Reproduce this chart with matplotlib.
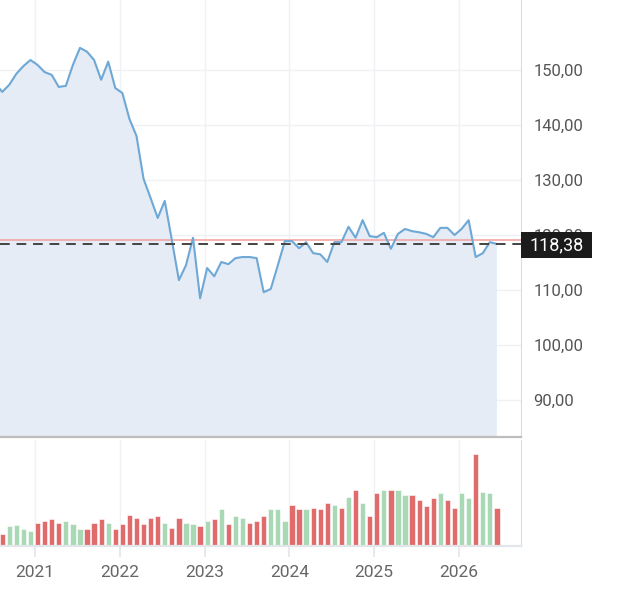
import numpy as np
import matplotlib.pyplot as plt
from matplotlib.patches import Rectangle

plt.rcParams['font.family'] = ['Roboto', 'DejaVu Sans']

# monthly closes, Jul 2020 .. Jun 2026 (first month lies just off the left edge)
price = [147.6, 146.0, 147.3, 149.3, 150.7, 151.8, 150.9, 149.6, 149.1, 146.9,
         147.1, 150.9, 154.0, 153.3, 151.8, 148.2, 151.5, 146.7, 145.8, 141.1,
         138.0, 130.2, 126.7, 123.1, 126.2, 119.1, 111.8, 114.5, 119.5, 108.5,
         114.0, 112.5, 115.1, 114.7, 115.8, 116.0, 116.0, 115.8, 109.6, 110.2,
         114.5, 118.9, 118.9, 117.6, 118.7, 116.7, 116.5, 115.1, 118.7, 118.7,
         121.5, 119.5, 122.7, 119.8, 119.6, 120.4, 117.5, 120.2, 121.1, 120.7,
         120.5, 120.2, 119.6, 121.3, 121.3, 120.0, 121.1, 122.7, 116.0, 116.7,
         118.7, 118.38]

volume = [14, 12, 20, 21, 17, 15, 23, 25, 27, 23, 25, 22, 17, 17, 23, 27, 23,
          17, 22, 31, 28, 22, 28, 30, 23, 18, 28, 23, 22, 20, 25, 27, 37, 22,
          30, 28, 23, 25, 30, 37, 37, 25, 41, 37, 37, 38, 37, 43, 41, 38, 49,
          56, 43, 30, 53, 56, 56, 56, 51, 51, 46, 40, 48, 53, 46, 38, 53, 48,
          92, 54, 53, 38]

direction = list("grggggrrrrgggrrrgrrrrrrrgrrggrgrgrggrr"
                 "rgggrrgrrrgrgrgrrgrggrrrrgrrggrggr")

last_price = 118.38
prev_close = 119.1
years = [2021, 2022, 2023, 2024, 2025, 2026]

t = 2020 + np.arange(6, 6 + len(price)) / 12 + 0.03
xlim = (2020.587, 2026.731)

line_c = '#6ea8d6'
fill_c = '#e5ecf5'
red = '#e06b6b'
green = '#a8d8b4'
grid_c = '#f0f1f4'

fig = plt.figure(figsize=(6.34, 6.0), dpi=100)
W = 521 / 634
ax = fig.add_axes([0, 1 - 437 / 600, W, 437 / 600])
axv = fig.add_axes([0, 1 - 546 / 600, W, 106 / 600])

# price panel
ax.fill_between(t, price, 0, color=fill_c, lw=0, zorder=1)
ax.plot(t, price, color=line_c, lw=1.5, zorder=3)
ax.axhline(prev_close, color='#f4a5a5', lw=1.2, zorder=2)
ax.axhline(last_price, color='#444444', lw=1.4, ls=(0, (5, 3.5)), zorder=4)
ax.set_xlim(*xlim)
ax.set_ylim(83.3, 162.7)
ax.set_yticks([90, 100, 110, 120, 130, 140, 150])
ax.set_yticklabels(['%d,00' % v for v in [90, 100, 110, 120, 130, 140, 150]])
ax.yaxis.tick_right()
ax.tick_params(axis='y', length=0, pad=9, labelsize=12, labelcolor='#555555')
ax.set_xticks(years)
ax.tick_params(axis='x', length=0, labelbottom=False)
ax.grid(True, color=grid_c, lw=1)
ax.set_axisbelow(True)
for s in ['top', 'left']:
    ax.spines[s].set_visible(False)
ax.spines['right'].set_color('#dcdcdc')
ax.spines['bottom'].set_color('#bdbdbd')
ax.spines['bottom'].set_linewidth(1.6)

# last price tag
trans = ax.get_yaxis_transform()
bw = 71 / 521
bh = 26 / 5.5
ax.add_patch(Rectangle((1.0, last_price - bh / 2 - 0.2), bw, bh, transform=trans,
                       fc='#1b1b1b', ec='none', zorder=10, clip_on=False))
ax.text(1.0 + bw / 2, last_price - 0.2, '118,38', transform=trans,
        ha='center', va='center', color='white', fontsize=13, zorder=11,
        clip_on=False)

# volume panel
cols = [red if d == 'r' else green for d in direction]
axv.bar(t, volume, width=0.062, color=cols, edgecolor='white', lw=0.4, zorder=2)
axv.set_xlim(*xlim)
axv.set_ylim(0, 106)
axv.set_yticks([])
axv.set_xticks(years)
axv.set_xticklabels([str(y) for y in years])
axv.tick_params(axis='x', length=8, width=1.2, color='#e2e5ea', pad=6,
                labelsize=12.5, labelcolor='#666666')
axv.grid(True, axis='x', color=grid_c, lw=1)
axv.set_axisbelow(True)
for s in ['top', 'left']:
    axv.spines[s].set_visible(False)
axv.spines['right'].set_color('#dcdcdc')
axv.spines['bottom'].set_color('#e2e5ea')
axv.spines['bottom'].set_linewidth(1.6)

fig.savefig('out.png', dpi=100)
